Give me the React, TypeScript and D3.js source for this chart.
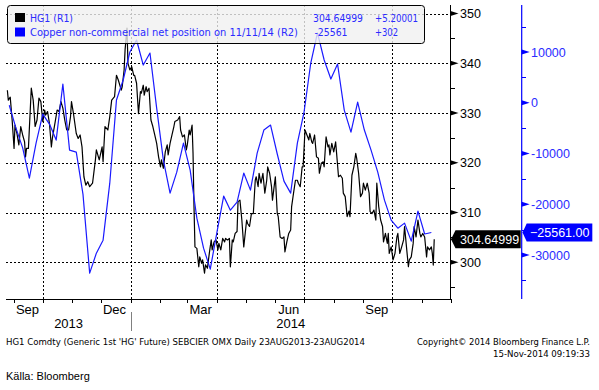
import { useEffect, useRef } from "react";
import * as d3 from "d3";

// HG1 daily close (R1)
const hg1: [string, number][] = [
  ["2013-08-25", 334.6], ["2013-08-26", 332.6], ["2013-08-28", 333.2], ["2013-08-30", 328.6],
  ["2013-09-01", 322.9], ["2013-09-02", 327.6], ["2013-09-04", 325.9], ["2013-09-06", 323.6],
  ["2013-09-08", 327.3], ["2013-09-10", 325.6], ["2013-09-12", 324.2], ["2013-09-13", 321.2],
  ["2013-09-14", 322.9], ["2013-09-16", 322.9], ["2013-09-19", 335.0], ["2013-09-21", 332.6],
  ["2013-09-23", 327.3], ["2013-09-25", 328.6], ["2013-09-27", 333.0], ["2013-09-29", 332.3],
  ["2013-10-01", 328.3], ["2013-10-03", 330.6], ["2013-10-04", 329.6], ["2013-10-06", 330.3],
  ["2013-10-08", 327.9], ["2013-10-10", 323.2], ["2013-10-11", 324.9], ["2013-10-14", 328.3],
  ["2013-10-16", 330.6], ["2013-10-18", 330.3], ["2013-10-20", 332.3], ["2013-10-22", 331.0],
  ["2013-10-24", 328.6], ["2013-10-26", 326.6], ["2013-10-28", 326.6], ["2013-10-30", 329.3],
  ["2013-10-31", 332.3], ["2013-11-02", 330.0], ["2013-11-05", 325.9], ["2013-11-07", 324.9],
  ["2013-11-09", 325.6], ["2013-11-11", 323.2], ["2013-11-13", 317.2], ["2013-11-15", 315.5],
  ["2013-11-17", 316.2], ["2013-11-19", 315.2], ["2013-11-22", 315.9], ["2013-11-25", 320.6],
  ["2013-11-26", 322.6], ["2013-11-29", 320.6], ["2013-12-02", 323.2], ["2013-12-03", 320.2],
  ["2013-12-05", 327.3], ["2013-12-08", 326.6], ["2013-12-10", 329.3], ["2013-12-12", 332.6],
  ["2013-12-15", 333.3], ["2013-12-17", 337.6], ["2013-12-19", 336.6], ["2013-12-22", 334.6],
  ["2013-12-23", 335.3], ["2013-12-25", 338.7], ["2013-12-26", 342.7], ["2013-12-28", 347.1],
  ["2013-12-29", 340.0], ["2013-12-31", 338.7], ["2014-01-02", 339.3], ["2014-01-04", 337.6],
  ["2014-01-05", 337.6], ["2014-01-07", 336.0], ["2014-01-09", 329.9], ["2014-01-11", 334.3],
  ["2014-01-12", 334.0], ["2014-01-14", 335.6], ["2014-01-15", 333.6], ["2014-01-17", 335.3],
  ["2014-01-18", 334.3], ["2014-01-20", 335.0], ["2014-01-22", 328.6], ["2014-01-24", 327.3],
  ["2014-01-26", 325.6], ["2014-01-28", 323.9], ["2014-01-30", 321.2], ["2014-02-01", 319.2],
  ["2014-02-02", 320.6], ["2014-02-04", 318.9], ["2014-02-06", 322.2], ["2014-02-08", 323.6],
  ["2014-02-09", 321.6], ["2014-02-11", 323.9], ["2014-02-13", 325.6], ["2014-02-15", 327.3],
  ["2014-02-16", 328.3], ["2014-02-19", 328.6], ["2014-02-21", 329.3], ["2014-02-22", 326.6],
  ["2014-02-24", 325.2], ["2014-02-26", 325.6], ["2014-02-28", 322.6], ["2014-03-01", 323.6],
  ["2014-03-03", 326.6], ["2014-03-04", 325.6], ["2014-03-06", 327.6], ["2014-03-07", 321.9],
  ["2014-03-08", 311.2], ["2014-03-09", 303.1], ["2014-03-11", 302.8], ["2014-03-13", 299.1],
  ["2014-03-14", 301.1], ["2014-03-16", 299.8], ["2014-03-17", 300.5], ["2014-03-19", 297.8],
  ["2014-03-20", 299.5], ["2014-03-22", 298.8], ["2014-03-24", 301.8], ["2014-03-26", 304.5],
  ["2014-03-27", 302.5], ["2014-03-29", 304.1], ["2014-03-31", 304.5], ["2014-04-02", 302.5],
  ["2014-04-03", 303.8], ["2014-04-05", 302.5], ["2014-04-07", 304.8], ["2014-04-09", 304.1],
  ["2014-04-10", 304.8], ["2014-04-12", 304.5], ["2014-04-14", 304.8], ["2014-04-15", 299.1],
  ["2014-04-17", 304.5], ["2014-04-18", 304.1], ["2014-04-20", 305.8], ["2014-04-22", 306.2],
  ["2014-04-23", 312.2], ["2014-04-25", 312.5], ["2014-04-27", 308.5], ["2014-04-29", 303.1],
  ["2014-05-02", 308.5], ["2014-05-03", 307.8], ["2014-05-05", 307.2], ["2014-05-07", 309.8],
  ["2014-05-09", 309.8], ["2014-05-11", 316.5], ["2014-05-12", 317.2], ["2014-05-14", 315.2],
  ["2014-05-15", 317.9], ["2014-05-17", 315.9], ["2014-05-19", 317.9], ["2014-05-21", 313.9],
  ["2014-05-23", 316.5], ["2014-05-24", 319.2], ["2014-05-26", 317.9], ["2014-05-28", 315.2],
  ["2014-05-29", 312.5], ["2014-06-01", 317.2], ["2014-06-03", 309.8], ["2014-06-04", 309.2],
  ["2014-06-06", 305.1], ["2014-06-08", 304.8], ["2014-06-10", 305.1], ["2014-06-11", 302.1],
  ["2014-06-13", 304.1], ["2014-06-15", 305.8], ["2014-06-17", 306.5], ["2014-06-18", 311.2],
  ["2014-06-20", 313.9], ["2014-06-22", 316.5], ["2014-06-24", 316.5], ["2014-06-25", 315.9],
  ["2014-06-27", 315.2], ["2014-06-29", 319.2], ["2014-06-30", 319.2], ["2014-07-02", 326.6],
  ["2014-07-04", 325.6], ["2014-07-06", 324.6], ["2014-07-07", 325.9], ["2014-07-09", 324.2],
  ["2014-07-10", 323.9], ["2014-07-12", 325.6], ["2014-07-14", 321.2], ["2014-07-16", 320.9],
  ["2014-07-17", 317.9], ["2014-07-19", 319.9], ["2014-07-21", 320.2], ["2014-07-22", 319.2],
  ["2014-07-24", 325.2], ["2014-07-26", 323.2], ["2014-07-27", 323.6], ["2014-07-28", 321.6],
  ["2014-07-30", 323.9], ["2014-08-01", 322.2], ["2014-08-03", 324.2], ["2014-08-04", 321.9],
  ["2014-08-06", 317.2], ["2014-08-08", 317.5], ["2014-08-10", 316.9], ["2014-08-11", 313.9],
  ["2014-08-13", 313.2], ["2014-08-15", 309.2], ["2014-08-17", 310.3], ["2014-08-18", 309.2],
  ["2014-08-20", 317.5], ["2014-08-22", 319.2], ["2014-08-24", 321.9], ["2014-08-25", 320.9],
  ["2014-08-27", 317.9], ["2014-08-29", 313.2], ["2014-08-31", 313.9], ["2014-09-01", 315.9],
  ["2014-09-03", 314.5], ["2014-09-05", 315.9], ["2014-09-07", 313.9], ["2014-09-08", 310.2],
  ["2014-09-10", 309.8], ["2014-09-12", 310.5], ["2014-09-14", 308.5], ["2014-09-15", 315.9],
  ["2014-09-17", 311.2], ["2014-09-19", 308.5], ["2014-09-21", 307.2], ["2014-09-22", 304.1],
  ["2014-09-24", 305.8], ["2014-09-26", 303.8], ["2014-09-27", 305.8], ["2014-09-28", 301.8],
  ["2014-09-30", 303.1], ["2014-10-02", 300.5], ["2014-10-04", 301.8], ["2014-10-06", 305.1],
  ["2014-10-07", 305.8], ["2014-10-09", 301.8], ["2014-10-11", 303.1], ["2014-10-13", 304.5],
  ["2014-10-14", 307.2], ["2014-10-16", 303.1], ["2014-10-18", 299.1], ["2014-10-19", 300.5],
  ["2014-10-21", 301.1], ["2014-10-23", 303.8], ["2014-10-24", 307.2], ["2014-10-26", 305.1],
  ["2014-10-28", 308.5], ["2014-10-30", 305.8], ["2014-10-31", 305.1], ["2014-11-02", 305.8],
  ["2014-11-04", 305.1], ["2014-11-06", 301.1], ["2014-11-07", 303.1], ["2014-11-09", 302.5],
  ["2014-11-11", 303.1], ["2014-11-12", 301.8], ["2014-11-13", 299.45], ["2014-11-14", 304.64999],
];

// weekly COT net position (R2), Tuesdays
const cotDates = [
  "2013-08-27", "2013-09-03", "2013-09-10", "2013-09-17", "2013-09-24", "2013-10-01", "2013-10-08",
  "2013-10-15", "2013-10-22", "2013-10-29", "2013-11-05", "2013-11-12", "2013-11-19", "2013-11-26",
  "2013-12-03", "2013-12-10", "2013-12-17", "2013-12-24", "2013-12-31", "2014-01-07", "2014-01-14",
  "2014-01-21", "2014-01-28", "2014-02-04", "2014-02-11", "2014-02-18", "2014-02-25", "2014-03-04",
  "2014-03-11", "2014-03-18", "2014-03-25", "2014-04-01", "2014-04-08", "2014-04-15", "2014-04-22",
  "2014-04-29", "2014-05-06", "2014-05-13", "2014-05-20", "2014-05-27", "2014-06-03", "2014-06-10",
  "2014-06-17", "2014-06-24", "2014-07-01", "2014-07-08", "2014-07-15", "2014-07-22", "2014-07-29",
  "2014-08-05", "2014-08-12", "2014-08-19", "2014-08-26", "2014-09-02", "2014-09-09", "2014-09-16",
  "2014-09-23", "2014-09-30", "2014-10-07", "2014-10-14", "2014-10-21", "2014-10-28", "2014-11-04",
  "2014-11-11",
];
const cotValues = [
  -500, -5000, -8900, -14850, -7970, -2230, -4200, -7360, 3690, -9330, -9720, -18000, -33580, -29640,
  -27080, -15850, 530, 4480, 10000, 12360, 7430, 9800, -1050, -11300, -17800, -13670, -7950, -13280,
  -22740, -28650, -32790, -25500, -18400, -21160, -19580, -13860, -17220, -9920, -5380, -4400, -10100,
  -15440, -17800, -7950, -1830, 7830, 13750, 8420, 4670, 7630, -1440, -5780, 140, -5380, -9330,
  -13670, -19190, -23130, -24710, -23720, -27270, -21360, -25863, -25561,
];

const r1Ticks = [300, 310, 320, 330, 340, 350];
const r1Minor = [295, 305, 315, 325, 335, 345];
const r2Ticks = [-30000, -20000, -10000, 0, 10000];
const r2Minor = [-35000, -25000, -15000, -5000, 5000, 15000];
const quarterLines = ["2013-10-01", "2014-01-01", "2014-04-01", "2014-07-01", "2014-10-01"];
const monthLabels: [string, string][] = [
  ["Sep", "2013-09-15"], ["Dec", "2013-12-15"], ["Mar", "2014-03-15"], ["Jun", "2014-06-15"], ["Sep", "2014-09-15"],
];
const yearLabels: [string, string, string][] = [
  ["2013", "2013-08-24", "2014-01-01"], ["2014", "2014-01-01", "2014-12-01"],
];

const BLUE = "#0000ff";
const TXT_BLUE = "#2b2bff";
const FONT = "'Liberation Sans', Arial, sans-serif";
const SMALL = "'DejaVu Sans', Verdana, sans-serif";

const App = () => {
  const svgRef = useRef(null);

  useEffect(() => {
    const parse = d3.timeParse("%Y-%m-%d");
    const svg = d3.select(svgRef.current);
    svg.selectAll("*").remove();

    const top = 5;
    const bottom = 299;
    const left = 6.4;
    const right = 450.5;
    const r2x = 521.7;

    const x = d3.scaleTime().domain([parse("2013-08-24"), parse("2014-12-01")]).range([left, right]);
    const yL = d3.scaleLinear().domain([300, 350]).range([262.3, 13.6]);
    const yR = d3.scaleLinear().domain([-30000, 10000]).range([255, 52]);

    const hgData = hg1.map(([d, v]) => ({ date: parse(d), v }));
    const cotData = cotDates.map((d, i) => ({ date: parse(d), v: cotValues[i] }));

    svg.append("rect").attr("width", 599).attr("height", 390).attr("fill", "#fff");

    // dotted grid
    const grid = svg.append("g").attr("stroke", "#000").attr("stroke-dasharray", "2,2").attr("shape-rendering", "crispEdges");
    r1Ticks.forEach((t) => {
      grid.append("line").attr("x1", left).attr("x2", right).attr("y1", Math.round(yL(t)) + 0.5).attr("y2", Math.round(yL(t)) + 0.5);
    });
    quarterLines.forEach((q) => {
      const xx = Math.round(x(parse(q))) + 0.5;
      grid.append("line").attr("x1", xx).attr("x2", xx).attr("y1", top).attr("y2", bottom);
    });

    // series
    const lineL = d3.line<any>().x((d) => x(d.date)).y((d) => yL(d.v));
    const lineR = d3.line<any>().x((d) => x(d.date)).y((d) => yR(d.v));
    svg.append("path").datum(hgData).attr("d", lineL).attr("fill", "none").attr("stroke", "#000").attr("stroke-width", 1.2).attr("stroke-linejoin", "round");
    svg.append("path").datum(cotData).attr("d", lineR).attr("fill", "none").attr("stroke", "#1a1aff").attr("stroke-width", 1.2).attr("stroke-linejoin", "round");

    // legend
    svg.append("rect").attr("x", 7.5).attr("y", 5.5).attr("width", 417).attr("height", 38).attr("rx", 3)
      .attr("fill", "#f0f0f0").attr("fill-opacity", 0.8).attr("stroke", "#000");
    svg.append("rect").attr("x", 15).attr("y", 13).attr("width", 10).attr("height", 9).attr("fill", "#000");
    svg.append("rect").attr("x", 15).attr("y", 27.5).attr("width", 10).attr("height", 9).attr("fill", BLUE);
    const leg = svg.append("g").attr("font-family", SMALL).attr("font-size", 10.5).attr("fill", TXT_BLUE)
      .attr("lengthAdjust", "spacingAndGlyphs");
    const legText = (tx: number, ty: number, w: number, s: string) =>
      leg.append("text").attr("x", tx).attr("y", ty).attr("textLength", w).attr("lengthAdjust", "spacingAndGlyphs").text(s);
    legText(30, 21.5, 43, "HG1 (R1)");
    legText(30, 36, 268, "Copper non-commercial net position on 11/11/14 (R2)");
    legText(313, 21.5, 50, "304.64999");
    legText(375, 21.5, 43, "+5.20001");
    legText(314.5, 36, 33, "-25561");
    legText(375, 36, 23, "+302");

    // x axis
    const xa = svg.append("g").attr("stroke", "#000").attr("shape-rendering", "crispEdges");
    xa.append("line").attr("x1", left).attr("x2", right).attr("y1", bottom + 0.5).attr("y2", bottom + 0.5);
    x.ticks(d3.timeMonth.every(1)).forEach((m) => {
      const xx = Math.round(x(m)) + 0.5;
      xa.append("line").attr("x1", xx).attr("x2", xx).attr("y1", bottom).attr("y2", bottom + 4);
    });
    monthLabels.forEach(([lab, d]) => {
      svg.append("text").attr("x", x(parse(d))).attr("y", 313.5).attr("text-anchor", "middle")
        .attr("font-family", FONT).attr("font-size", 13).attr("fill", "#000").text(lab);
    });
    yearLabels.forEach(([lab, a, b]) => {
      svg.append("text").attr("x", (x(parse(a)) + x(parse(b))) / 2).attr("y", 327.5).attr("text-anchor", "middle")
        .attr("font-family", FONT).attr("font-size", 13).attr("fill", "#000").text(lab);
    });
    const yearSep = Math.round(x(parse(yearLabels[1][1]))) + 0.5;
    svg.append("line").attr("x1", yearSep).attr("x2", yearSep).attr("y1", 312).attr("y2", 331).attr("stroke", "#808080");

    // R1 axis
    const ra = svg.append("g");
    ra.append("line").attr("x1", right).attr("x2", right).attr("y1", top).attr("y2", bottom + 0.5).attr("stroke", "#000").attr("shape-rendering", "crispEdges");
    r1Minor.forEach((t) => {
      const yy = Math.round(yL(t)) + 0.5;
      ra.append("line").attr("x1", right).attr("x2", right + 4.5).attr("y1", yy).attr("y2", yy).attr("stroke", "#000").attr("shape-rendering", "crispEdges");
    });
    r1Ticks.forEach((t) => {
      const yy = yL(t);
      ra.append("path").attr("d", `M${right},${yy - 2.5}L${right + 8},${yy}L${right},${yy + 2.5}Z`).attr("fill", "#000");
      ra.append("text").attr("x", 460).attr("y", yy).attr("dy", "0.36em").attr("font-family", FONT).attr("font-size", 12.5).attr("fill", "#000").text(t);
    });

    // R2 axis
    const rb = svg.append("g");
    rb.append("line").attr("x1", r2x).attr("x2", r2x).attr("y1", top).attr("y2", bottom).attr("stroke", BLUE).attr("stroke-width", 1.2);
    r2Minor.forEach((t) => {
      const yy = Math.round(yR(t)) + 0.5;
      rb.append("line").attr("x1", r2x).attr("x2", r2x + 4.5).attr("y1", yy).attr("y2", yy).attr("stroke", BLUE).attr("shape-rendering", "crispEdges");
    });
    r2Ticks.forEach((t) => {
      const yy = yR(t);
      rb.append("path").attr("d", `M${r2x},${yy - 2.5}L${r2x + 8},${yy}L${r2x},${yy + 2.5}Z`).attr("fill", BLUE);
      rb.append("text").attr("x", 531).attr("y", yy).attr("dy", "0.36em").attr("font-family", FONT).attr("font-size", 12.5).attr("fill", TXT_BLUE).text(t);
    });

    // last value tags
    const lastL = hgData[hgData.length - 1];
    const lastR = cotData[cotData.length - 1];
    const ty = yL(lastL.v);
    svg.append("path").attr("d", `M${right + 0.5},${ty}L${right + 5},${ty - 9}L520.7,${ty - 9}L520.7,${ty + 9}L${right + 5},${ty + 9}Z`).attr("fill", "#000");
    svg.append("text").attr("x", 460).attr("y", ty).attr("dy", "0.36em").attr("font-family", FONT).attr("font-size", 12.5).attr("fill", "#fff").text(d3.format(".5f")(lastL.v));
    const tr = yR(lastR.v);
    svg.append("path").attr("d", `M${r2x + 0.8},${tr}L${r2x + 5},${tr - 9}L592.3,${tr - 9}L592.3,${tr + 9}L${r2x + 5},${tr + 9}Z`).attr("fill", BLUE);
    svg.append("text").attr("x", 530).attr("y", tr).attr("dy", "0.36em").attr("font-family", FONT).attr("font-size", 12.5).attr("fill", "#fff").text(d3.format(".2f")(lastR.v));

    // footer
    svg.append("text").attr("x", 6).attr("y", 345).attr("font-family", SMALL).attr("font-size", 8.5)
      .attr("textLength", 359).attr("lengthAdjust", "spacingAndGlyphs").attr("fill", "#000")
      .text("HG1 Comdty (Generic 1st 'HG' Future) SEBCIER OMX  Daily 23AUG2013-23AUG2014");
    svg.append("text").attr("x", 590).attr("y", 345).attr("text-anchor", "end").attr("font-family", SMALL).attr("font-size", 8.5)
      .attr("textLength", 173).attr("lengthAdjust", "spacingAndGlyphs").attr("fill", "#000")
      .text("Copyright© 2014 Bloomberg Finance L.P.");
    svg.append("text").attr("x", 590).attr("y", 356.5).attr("text-anchor", "end").attr("font-family", SMALL).attr("font-size", 8.5)
      .attr("textLength", 97).attr("lengthAdjust", "spacingAndGlyphs").attr("fill", "#000")
      .text("15-Nov-2014 09:19:33");
    svg.append("text").attr("x", 6).attr("y", 380).attr("font-family", FONT).attr("font-size", 11).attr("fill", "#000")
      .text("Källa: Bloomberg");
  }, []);

  return (
    <svg ref={svgRef} width={599} height={390} style={{ position: "absolute", left: 0, top: 0 }}></svg>
  );
};

export default App;
